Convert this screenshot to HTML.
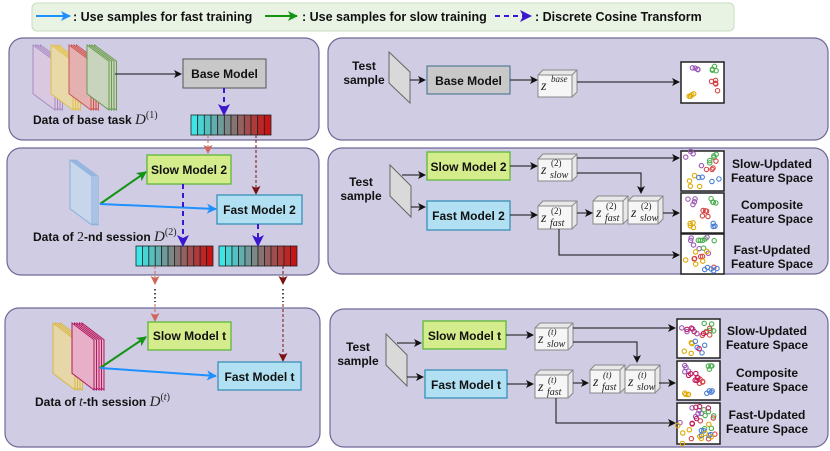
<!DOCTYPE html>
<html><head><meta charset="utf-8"><style>
html,body{margin:0;padding:0;background:#fff;}
svg{display:block;font-family:"Liberation Sans",sans-serif;}
.b{font-weight:bold;font-size:12px;fill:#111;}
.m{font-family:"Liberation Serif",serif;font-style:italic;fill:#222;}
</style></head><body>
<svg id="s" width="830" height="451" viewBox="0 0 830 451" xmlns="http://www.w3.org/2000/svg">
<defs>
<marker id="ak" markerWidth="8" markerHeight="8" refX="7" refY="4" orient="auto" markerUnits="userSpaceOnUse"><path d="M0,0L8,4L0,8L2,4z" fill="#111"/></marker>
<marker id="ab" markerWidth="10" markerHeight="10" refX="9" refY="5" orient="auto" markerUnits="userSpaceOnUse"><path d="M0,0L10,5L0,10L2.5,5z" fill="#1e90ff"/></marker>
<marker id="ag" markerWidth="10" markerHeight="10" refX="9" refY="5" orient="auto" markerUnits="userSpaceOnUse"><path d="M0,0L10,5L0,10L2.5,5z" fill="#149414"/></marker>
<marker id="ap" markerWidth="12" markerHeight="12" refX="10" refY="6" orient="auto" markerUnits="userSpaceOnUse"><path d="M0,0L12,6L0,12L3,6z" fill="#3a16d0"/></marker>
<marker id="ar" markerWidth="9" markerHeight="9" refX="8" refY="4.5" orient="auto" markerUnits="userSpaceOnUse"><path d="M0,0L9,4.5L0,9L2,4.5z" fill="#d0665a"/></marker>
<marker id="ad" markerWidth="9" markerHeight="9" refX="8" refY="4.5" orient="auto" markerUnits="userSpaceOnUse"><path d="M0,0L9,4.5L0,9L2,4.5z" fill="#7a1010"/></marker>
</defs>
<!-- legend -->
<rect x="32" y="3" width="702" height="28" rx="5" fill="#e9f3e4" stroke="#c8dcc0"/>
<line x1="36" y1="16" x2="70" y2="16" stroke="#1e90ff" stroke-width="2" marker-end="url(#ab)"/>
<text x="73" y="21" class="b" style="font-size:12.5px">: Use samples for fast training</text>
<line x1="265" y1="16" x2="297" y2="16" stroke="#149414" stroke-width="2" marker-end="url(#ag)"/>
<text x="302" y="21" class="b" style="font-size:12.5px">: Use samples for slow training</text>
<line x1="495" y1="16" x2="530" y2="16" stroke="#3a16d0" stroke-width="2" stroke-dasharray="5,4" marker-end="url(#ap)"/>
<text x="535" y="21" class="b" style="font-size:12.5px">: Discrete Cosine Transform</text>

<!-- panels -->
<g fill="#cfcce3" stroke="#6e6a96" stroke-width="1.2">
<rect x="9" y="38" width="310" height="102" rx="14"/>
<rect x="7" y="148" width="312" height="127" rx="14"/>
<rect x="5" y="308" width="315" height="139" rx="14"/>
<rect x="328" y="38" width="500" height="102" rx="14"/>
<rect x="328" y="148" width="500" height="126" rx="14"/>
<rect x="330" y="309" width="498" height="138" rx="14"/>
</g>
<g id="dyn"></g>

<!-- panel1 left -->
<line x1="115" y1="74" x2="181" y2="74" stroke="#111" marker-end="url(#ak)"/>
<rect x="183" y="59" width="83" height="29" fill="#c8c8c8" stroke="#555"/>
<text x="224.5" y="78" class="b" text-anchor="middle">Base Model</text>
<text x="33" y="124" class="b">Data of base task <tspan class="m" style="font-size:15px;font-weight:normal">D</tspan><tspan class="m" style="font-size:10px;font-style:normal;font-weight:normal" dy="-6">(1)</tspan></text>
<line x1="224" y1="88" x2="224" y2="114" stroke="#3a16d0" stroke-width="2" stroke-dasharray="5,4" marker-end="url(#ap)"/>

<!-- inter arrows -->
<line x1="208" y1="135" x2="208" y2="153" stroke="#d0665a" stroke-dasharray="3,2" marker-end="url(#ar)"/>
<line x1="256" y1="135" x2="256" y2="194" stroke="#7a1010" stroke-dasharray="3,2" marker-end="url(#ad)"/>

<!-- panel2 left -->
<line x1="100" y1="204" x2="146" y2="172" stroke="#149414" stroke-width="2" marker-end="url(#ag)"/>
<line x1="100" y1="204" x2="216" y2="209" stroke="#1e90ff" stroke-width="2" marker-end="url(#ab)"/>
<rect x="147" y="155" width="84" height="29" fill="#d4ec8c" stroke="#5fb83a" stroke-width="1.3"/>
<text x="189" y="174" class="b" text-anchor="middle">Slow Model 2</text>
<rect x="217" y="195" width="85" height="29" fill="#b0e0f2" stroke="#3a8fb8" stroke-width="1.3"/>
<text x="259.5" y="214" class="b" text-anchor="middle">Fast Model 2</text>
<text x="33" y="241" class="b">Data of <tspan class="m" style="font-weight:normal;font-style:normal;font-size:14px">2</tspan>-nd session <tspan class="m" style="font-size:15px;font-weight:normal">D</tspan><tspan class="m" style="font-size:10px;font-style:normal;font-weight:normal" dy="-6">(2)</tspan></text>
<line x1="183" y1="184" x2="183" y2="245" stroke="#3a16d0" stroke-width="2" stroke-dasharray="5,4" marker-end="url(#ap)"/>
<line x1="258" y1="224" x2="258" y2="245" stroke="#3a16d0" stroke-width="2" stroke-dasharray="5,4" marker-end="url(#ap)"/>
<line x1="155" y1="266" x2="155" y2="284" stroke="#d0665a" stroke-dasharray="3,2" marker-end="url(#ar)"/>
<line x1="283" y1="266" x2="283" y2="284" stroke="#7a1010" stroke-dasharray="3,2" marker-end="url(#ad)"/>
<line x1="155" y1="289" x2="155" y2="302" stroke="#111" stroke-width="1.5" stroke-dasharray="1.5,2.5"/>
<line x1="283" y1="289" x2="283" y2="302" stroke="#111" stroke-width="1.5" stroke-dasharray="1.5,2.5"/>

<!-- panel3 left -->
<line x1="155" y1="304" x2="155" y2="321" stroke="#d0665a" stroke-dasharray="3,2" marker-end="url(#ar)"/>
<line x1="283" y1="304" x2="283" y2="361" stroke="#7a1010" stroke-dasharray="3,2" marker-end="url(#ad)"/>
<line x1="100" y1="368" x2="146" y2="337" stroke="#149414" stroke-width="2" marker-end="url(#ag)"/>
<line x1="100" y1="368" x2="216" y2="376" stroke="#1e90ff" stroke-width="2" marker-end="url(#ab)"/>
<rect x="148" y="322" width="83" height="28" fill="#d4ec8c" stroke="#5fb83a" stroke-width="1.3"/>
<text x="189.5" y="340" class="b" text-anchor="middle">Slow Model t</text>
<rect x="218" y="362" width="83" height="28" fill="#b0e0f2" stroke="#3a8fb8" stroke-width="1.3"/>
<text x="259.5" y="381" class="b" text-anchor="middle">Fast Model t</text>
<text x="35" y="406" class="b">Data of <tspan class="m" style="font-weight:normal;font-size:14px">t</tspan>-th session <tspan class="m" style="font-size:15px;font-weight:normal">D</tspan><tspan class="m" style="font-size:10px;font-style:normal;font-weight:normal" dy="-6">(<tspan style="font-style:italic">t</tspan>)</tspan></text>

<!-- right panel 1 -->
<text x="364" y="70" class="b" text-anchor="middle">Test</text>
<text x="364" y="84" class="b" text-anchor="middle">sample</text>
<polygon points="389,52 410,72 410,103 389,83" fill="#d9d9d9" stroke="#666"/>
<line x1="410" y1="80" x2="425" y2="80" stroke="#111" marker-end="url(#ak)"/>
<rect x="427" y="66" width="83" height="28" fill="#c8c8c8" stroke="#3c6a8a"/>
<text x="468.5" y="85" class="b" text-anchor="middle">Base Model</text>
<line x1="510" y1="80" x2="537" y2="80" stroke="#111" marker-end="url(#ak)"/>
<line x1="577" y1="82" x2="679" y2="82" stroke="#111" marker-end="url(#ak)"/>

<!-- right panel 2 -->
<text x="361" y="186" class="b" text-anchor="middle">Test</text>
<text x="361" y="200" class="b" text-anchor="middle">sample</text>
<polygon points="390,165 411,186 411,217 390,196" fill="#d9d9d9" stroke="#666"/>
<line x1="402" y1="175" x2="425" y2="175" stroke="#111" marker-end="url(#ak)"/>
<line x1="411" y1="207" x2="425" y2="207" stroke="#111" marker-end="url(#ak)"/>
<rect x="427" y="152" width="83" height="28" fill="#d4ec8c" stroke="#5fb83a" stroke-width="1.3"/>
<text x="468.5" y="171" class="b" text-anchor="middle">Slow Model 2</text>
<rect x="427" y="201" width="83" height="29" fill="#b0e0f2" stroke="#3a8fb8" stroke-width="1.3"/>
<text x="468.5" y="220" class="b" text-anchor="middle">Fast Model 2</text>
<line x1="510" y1="166" x2="537" y2="166" stroke="#111" marker-end="url(#ak)"/>
<line x1="510" y1="215" x2="537" y2="215" stroke="#111" marker-end="url(#ak)"/>
<polyline points="577,158 679,158" fill="none" stroke="#111" marker-end="url(#ak)"/>
<polyline points="577,173 641,173 641,193" fill="none" stroke="#111" marker-end="url(#ak)"/>
<line x1="577" y1="213" x2="592" y2="213" stroke="#111" marker-end="url(#ak)"/>
<line x1="663" y1="213" x2="679" y2="213" stroke="#111" marker-end="url(#ak)"/>
<polyline points="559,229 559,255 679,255" fill="none" stroke="#111" marker-end="url(#ak)"/>

<!-- right panel 3 -->
<text x="358" y="351" class="b" text-anchor="middle">Test</text>
<text x="358" y="365" class="b" text-anchor="middle">sample</text>
<polygon points="386,334 407,355 407,386 386,365" fill="#d9d9d9" stroke="#666"/>
<line x1="397" y1="343" x2="421" y2="343" stroke="#111" marker-end="url(#ak)"/>
<line x1="407" y1="377" x2="423" y2="377" stroke="#111" marker-end="url(#ak)"/>
<rect x="423" y="321" width="83" height="28" fill="#d4ec8c" stroke="#5fb83a" stroke-width="1.3"/>
<text x="464.5" y="340" class="b" text-anchor="middle">Slow Model t</text>
<rect x="425" y="370" width="82" height="28" fill="#b0e0f2" stroke="#3a8fb8" stroke-width="1.3"/>
<text x="466" y="389" class="b" text-anchor="middle">Fast Model t</text>
<line x1="506" y1="335" x2="533" y2="335" stroke="#111" marker-end="url(#ak)"/>
<line x1="507" y1="384" x2="533" y2="384" stroke="#111" marker-end="url(#ak)"/>
<polyline points="573,328 675,328" fill="none" stroke="#111" marker-end="url(#ak)"/>
<polyline points="573,342 637,342 637,362" fill="none" stroke="#111" marker-end="url(#ak)"/>
<line x1="573" y1="383" x2="588" y2="383" stroke="#111" marker-end="url(#ak)"/>
<line x1="659" y1="383" x2="675" y2="383" stroke="#111" marker-end="url(#ak)"/>
<polyline points="556,398 556,423 675,423" fill="none" stroke="#111" marker-end="url(#ak)"/>

<!-- feature labels -->
<g class="b" text-anchor="middle" style="font-size:11.5px">
<text x="772" y="168" class="b">Slow-Updated</text><text x="772" y="182" class="b">Feature Space</text>
<text x="772" y="209" class="b">Composite</text><text x="772" y="223" class="b">Feature Space</text>
<text x="772" y="254" class="b">Fast-Updated</text><text x="772" y="268" class="b">Feature Space</text>
<text x="767" y="335" class="b">Slow-Updated</text><text x="767" y="349" class="b">Feature Space</text>
<text x="767" y="377" class="b">Composite</text><text x="767" y="391" class="b">Feature Space</text>
<text x="767" y="419" class="b">Fast-Updated</text><text x="767" y="433" class="b">Feature Space</text>
</g>
</svg>
<script>
(function(){
var NS="http://www.w3.org/2000/svg",g=document.getElementById('dyn'),s=document.getElementById('s');
function el(t,a,p){var e=document.createElementNS(NS,t);for(var k in a)e.setAttribute(k,a[k]);(p||g).appendChild(e);return e;}
// data stacks
function stack(x,y,w,h,n,fill,stroke,dx){for(var i=n-1;i>=0;i--){var ox=x+i*dx;el('polygon',{points:(ox)+','+y+' '+(ox+w)+','+(y+h*0.25)+' '+(ox+w)+','+(y+h)+' '+ox+','+(y+h*0.75),fill:fill,stroke:stroke,'stroke-width':1});}}
stack(33,45,22,65,4,'#d9c8e0','#a98cc4',2.5);
stack(51,45,22,65,4,'#ead9a8','#e0c050',2.5);
stack(69,45,22,65,4,'#e4b0b0','#cc5555',2.5);
stack(87,45,22,65,4,'#c8d4be','#6a9a50',2.5);
stack(70,160,22,65,4,'#c8d6ec','#8ab0dc',2);
stack(53,323,22,67,4,'#e6d6a8','#d8b848',2.5);
stack(72,323,22,67,5,'#e8b0c8','#b01860',2.5);
// bars
function bar(x,y,w,h,n){var cw=w/n;for(var i=0;i<n;i++){var t=i/(n-1);var r=Math.round(60+t*(200-60)),gg=Math.round(230-t*(230-20)),b=Math.round(230-t*(230-20));el('rect',{x:x+i*cw,y:y,width:cw,height:h,fill:'rgb('+r+','+gg+','+b+')',stroke:'#222','stroke-width':0.8});}}
bar(191,115,80,20,12);bar(136,246,77,20,12);bar(219,246,78,20,12);
// cubes
function cube(x,y,w,h,label,sup,sub){var d=5;el('polygon',{points:x+','+(y+d)+' '+(x+d)+','+y+' '+(x+w)+','+y+' '+(x+w)+','+(y+h-d)+' '+(x+w-d)+','+(y+h)+' '+x+','+(y+h),fill:'#e8e8e8',stroke:'#888'});el('rect',{x:x,y:y+d,width:w-d,height:h-d,fill:'#f6f6f6',stroke:'#888'});el('line',{x1:x+w-d,y1:y+d,x2:x+w,y2:y,stroke:'#888'});
var t=el('text',{x:x+3,y:y+h-7,'class':'m','font-size':'14'});t.textContent='z';
if(sup){var a=el('text',{x:x+13,y:y+h-15,'class':'m','font-size':'9'});a.textContent=sup;a.style.fontStyle=sup=='(2)'?'normal':'italic';}
if(sub){var b=el('text',{x:x+12,y:y+h-3,'class':'m','font-size':'10'});b.textContent=sub;}}
cube(538,70,39,27,'z','base',null);
cube(538,154,39,27,'z','(2)','slow');cube(538,201,39,28,'z','(2)','fast');
cube(593,196,35,28,'z','(2)','fast');cube(628,196,35,28,'z','(2)','slow');
cube(535,323,38,27,'z','(t)','slow');cube(535,370,38,28,'z','(t)','fast');
cube(590,365,35,28,'z','(t)','fast');cube(625,365,35,28,'z','(t)','slow');
// feature boxes
var C={p:'#9b59b6',g:'#4caf50',r:'#d64545',y:'#e0a800',b:'#4a7fd4',m:'#c2185b'};
var seed=3;function rnd(){seed=(seed*9301+49297)%233280;return seed/233280;}
function fbox(x,y,w,h,cl){el('rect',{x:x,y:y,width:w,height:h,fill:'#fff',stroke:'#222','stroke-width':1.5});
cl.forEach(function(c){for(var i=0;i<c[3];i++){el('circle',{cx:x+c[1]*w+(rnd()-0.5)*c[4]*w,cy:y+c[2]*h+(rnd()-0.5)*c[4]*h,r:2.2,fill:'none',stroke:C[c[0]],'stroke-width':1.1});}});}
fbox(681,62,43,41,[['p',.3,.2,4,.2],['g',.75,.18,4,.15],['r',.75,.5,4,.15],['y',.25,.8,4,.15],['r',.85,.7,1,0]]);
var sp=[['p',.3,.2,4,.4],['g',.75,.2,5,.25],['r',.7,.35,4,.25],['y',.3,.75,4,.3],['b',.65,.7,4,.5]];
var co=[['p',.25,.2,4,.2],['g',.75,.2,4,.15],['r',.55,.5,5,.2],['y',.25,.8,4,.15],['b',.75,.8,4,.15]];
var fa=[['p',.35,.35,6,.6],['g',.7,.4,6,.6],['r',.6,.6,5,.6],['y',.3,.7,5,.6],['b',.7,.8,5,.4]];
fbox(681,151,43,40,sp);fbox(681,193,43,40,co);fbox(681,234,43,40,fa);
var sp2=sp.concat([['m',.5,.5,5,.6]]),co2=co.concat([['m',.4,.45,6,.3]]),fa2=fa.concat([['m',.5,.3,6,.5],['y',.6,.7,4,.4]]);
fbox(677,319,43,39,sp2);fbox(677,361,43,39,co2);fbox(677,403,43,41,fa2);
})();
</script>
</body></html>
